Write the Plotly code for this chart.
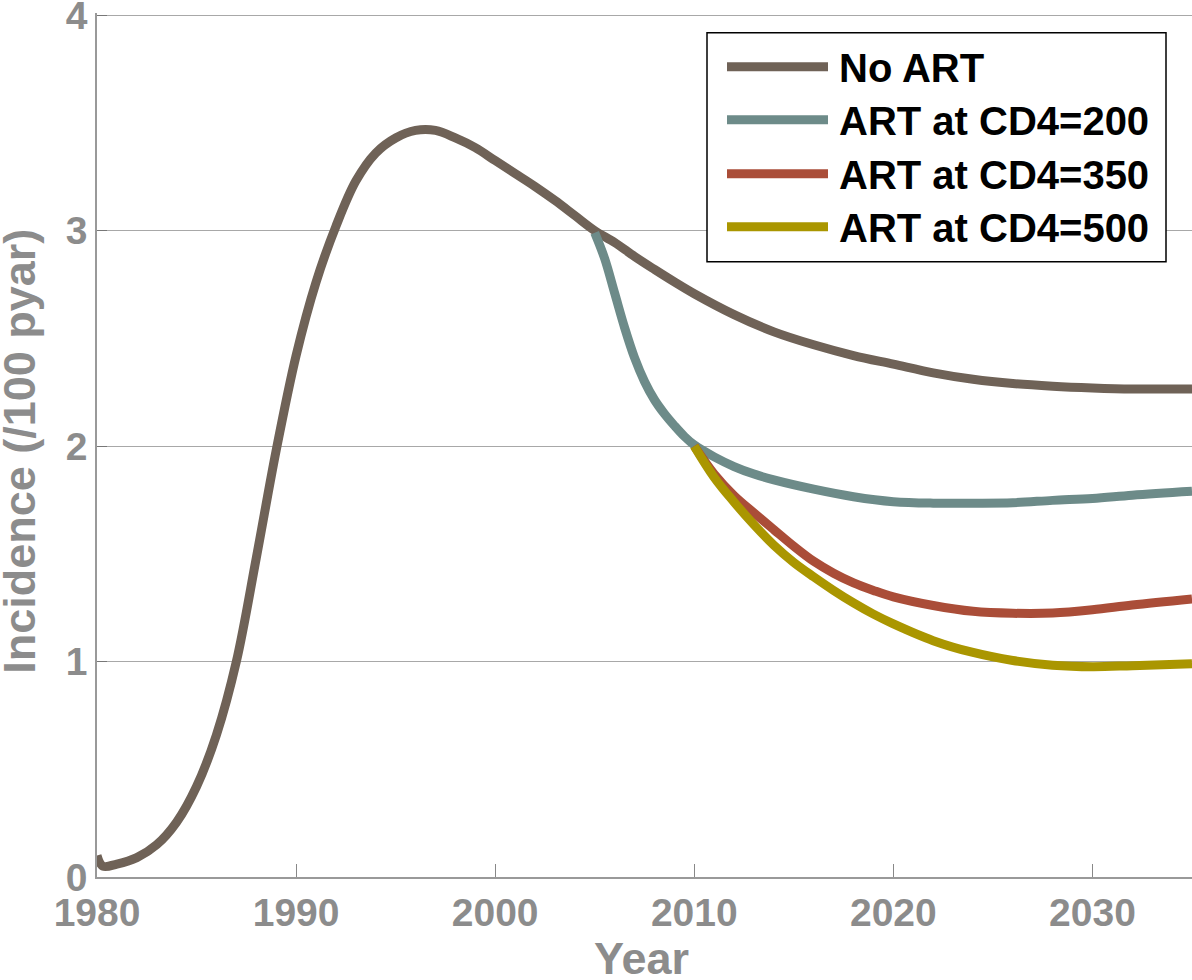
import plotly.graph_objects as go

# ---- data ----
no_art_years = [1980, 1980.3, 1981, 1982, 1983, 1984, 1985, 1986, 1987, 1988, 1989, 1990,
                1991, 1992, 1993, 1994, 1995, 1996, 1997, 1998, 1999, 2000, 2001, 2002,
                2003, 2004, 2005, 2006, 2007, 2008, 2009, 2010, 2012, 2014, 2016, 2018,
                2020, 2022, 2024, 2026, 2028, 2030, 2032, 2035]
no_art_vals = [0.10, 0.05, 0.06, 0.09, 0.15, 0.255, 0.42, 0.66, 1.00, 1.48, 1.98, 2.42,
               2.76, 3.02, 3.23, 3.36, 3.43, 3.465, 3.465, 3.43, 3.385, 3.325, 3.265, 3.205,
               3.14, 3.07, 3.0, 2.945, 2.88, 2.82, 2.762, 2.707, 2.61, 2.53, 2.47, 2.42,
               2.38, 2.34, 2.31, 2.29, 2.278, 2.27, 2.265, 2.265]

cd4_200_years = [2005, 2005.5, 2006, 2006.5, 2007, 2007.5, 2008, 2008.5, 2009, 2009.5, 2010,
                 2011, 2012, 2013, 2014, 2016, 2018, 2020, 2022, 2024, 2026, 2028, 2030,
                 2032, 2035]
cd4_200_vals = [2.99, 2.87, 2.71, 2.55, 2.41, 2.30, 2.215, 2.15, 2.095, 2.045, 2.005,
                1.95, 1.905, 1.87, 1.843, 1.80, 1.765, 1.742, 1.735, 1.735, 1.737, 1.748, 1.757,
                1.772, 1.79]

cd4_350_years = [2010, 2011, 2012, 2013, 2014, 2015, 2016, 2017, 2018, 2019, 2020, 2022,
                 2024, 2026, 2028, 2030, 2032, 2035]
cd4_350_vals = [2.00, 1.87, 1.77, 1.69, 1.612, 1.535, 1.465, 1.41, 1.365, 1.33, 1.30, 1.26,
                1.233, 1.224, 1.225, 1.24, 1.262, 1.29]

cd4_500_years = [2010, 2011, 2012, 2013, 2014, 2015, 2016, 2017, 2018, 2019, 2020, 2022,
                 2024, 2026, 2028, 2030, 2032, 2035]
cd4_500_vals = [2.00, 1.855, 1.74, 1.635, 1.54, 1.46, 1.393, 1.33, 1.272, 1.22, 1.175, 1.097,
                1.042, 1.005, 0.983, 0.976, 0.981, 0.99]

series_names = ["No ART", "ART at CD4=200", "ART at CD4=350", "ART at CD4=500"]
series_colors = ["#6f6257", "#6d8b89", "#aa4d38", "#aa9600"]

x_ticks = [1980, 1990, 2000, 2010, 2020, 2030]
y_ticks = [0, 1, 2, 3, 4]
x_title = "Year"
y_title = "Incidence (/100 pyar)"

GRAY = "#8c8c8c"
FONT = "Liberation Sans, Arial, sans-serif"

series = [(no_art_years, no_art_vals), (cd4_200_years, cd4_200_vals),
          (cd4_350_years, cd4_350_vals), (cd4_500_years, cd4_500_vals)]

fig = go.Figure()
for (xs, ys), name, col in zip(series, series_names, series_colors):
    fig.add_trace(go.Scatter(x=xs, y=ys, mode="lines", name=name,
                             line=dict(color=col, width=9, shape="spline", smoothing=1.0),
                             showlegend=False))

# ---- geometry (page body margin removed by post_script below) ----
Y_TOP = 4.01                      # a little headroom so the y=4 grid line is drawn
PX_PER_UNIT = (877 - 15.5) / 4.0
W, H = 1192, 980
L, R, B = 97, 0, 103
T = 15.5 - (Y_TOP - 4.0) * PX_PER_UNIT
pw, ph = W - L - R, H - T - B

def px2x(px):  # page pixel -> paper x
    return (px - L) / pw

def py2y(py):  # page pixel -> paper y
    return (H - B - py) / ph

# ---- manual legend ----
fig.add_shape(type="rect", xref="paper", yref="paper",
              x0=px2x(707), x1=px2x(1166), y0=py2y(262), y1=py2y(33),
              line=dict(color="black", width=1.5), fillcolor="white", layer="above")
legend_rows = [67, 120, 174, 227]
for name, col, ry in zip(series_names, series_colors, legend_rows):
    fig.add_shape(type="line", xref="paper", yref="paper",
                  x0=px2x(727), x1=px2x(828), y0=py2y(ry), y1=py2y(ry),
                  line=dict(color=col, width=9), layer="above")
    fig.add_annotation(xref="paper", yref="paper", x=px2x(837), y=py2y(ry + 1),
                       xanchor="left", yanchor="middle", text=name, showarrow=False,
                       font=dict(family=FONT, size=40, color="black", weight="bold"))

# ---- axis titles as annotations ----
fig.add_annotation(xref="paper", yref="paper", x=px2x(641), y=py2y(958),
                   xanchor="center", yanchor="middle", text=x_title, showarrow=False,
                   font=dict(family=FONT, size=45, color=GRAY, weight="bold"))
fig.add_annotation(xref="paper", yref="paper", x=px2x(20), y=py2y(452),
                   xanchor="center", yanchor="middle", text=y_title, showarrow=False,
                   textangle=-90,
                   font=dict(family=FONT, size=45, color=GRAY, weight="bold"))

fig.update_layout(
    width=W, height=H,
    margin=dict(l=L, r=R, t=T, b=B, autoexpand=False),
    paper_bgcolor="white", plot_bgcolor="white",
    font=dict(family=FONT, color=GRAY, weight="bold"),
)
fig.update_xaxes(
    range=[1980, 2035], tickvals=x_ticks, ticktext=[str(v) for v in x_ticks],
    tickfont=dict(family=FONT, size=39, color=GRAY, weight="bold"),
    ticks="inside", ticklen=13, tickcolor="#888888", tickwidth=1,
    showline=True, linecolor="#999999", linewidth=1.5,
    showgrid=False, zeroline=False, automargin=False, ticklabeloverflow="allow",
)
fig.update_yaxes(
    range=[0, Y_TOP], tickvals=y_ticks, ticktext=[str(v) for v in y_ticks],
    tickfont=dict(family=FONT, size=39, color=GRAY, weight="bold"),
    ticks="inside", ticklen=10, tickcolor="#777777", tickwidth=1,
    showline=True, linecolor="#999999", linewidth=1.5,
    showgrid=True, gridcolor="#a8a8a8", gridwidth=1, zeroline=False, automargin=False,
    ticklabeloverflow="allow",
)

fig.write_html("out.html",
               config={"displayModeBar": False},
               post_script="document.body.style.margin='0px';"
                           "document.body.style.overflow='hidden';")
